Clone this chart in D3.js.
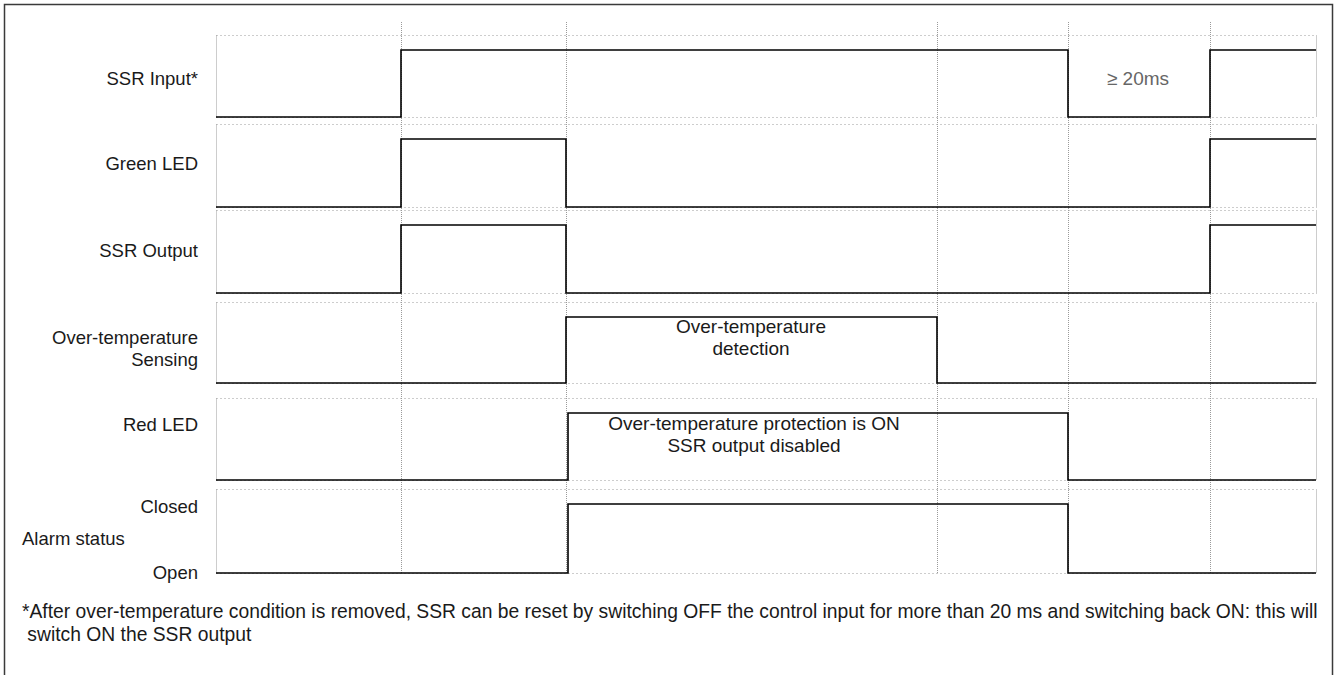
<!DOCTYPE html>
<html>
<head>
<meta charset="utf-8">
<script src="https://cdn.jsdelivr.net/npm/d3@7/dist/d3.min.js"></script>
<style>
  html, body { margin: 0; padding: 0; background: #fff; }
  svg { display: block; }
  text { font-family: "Liberation Sans", Arial, Helvetica, sans-serif; }
</style>
</head>
<body>
<svg id="chart" width="1335" height="675"></svg>
<script>
// ---------------- DATA ----------------
// Time axis in arbitrary units (0 .. 110)
const timeEnd = 110;
const gridTimes = [18.5, 35, 72.1, 85.2, 99.4];

const signalLabels = [
  ["SSR Input*"],
  ["Green LED"],
  ["SSR Output"],
  ["Over-temperature", "Sensing"],
  ["Red LED"],
  ["Alarm status"]
];

// Each signal: list of [time, level] change points (level 0 = low, 1 = high)
const ssrInput      = [[0, 0], [18.5, 1], [85.2, 0], [99.4, 1]];
const greenLed      = [[0, 0], [18.5, 1], [35, 0], [99.4, 1]];
const ssrOutput     = [[0, 0], [18.5, 1], [35, 0], [99.4, 1]];
const overTempSense = [[0, 0], [35, 1], [72.1, 0]];
const redLed        = [[0, 0], [35.2, 1], [85.2, 0]];
const alarmStatus   = [[0, 0], [35.2, 1], [85.2, 0]];

const alarmLevels = ["Closed", "Open"];

const annotations = [
  { row: 0, t: 92.2, lines: ["\u2265 20ms"], gray: true },
  { row: 3, t: 53.5, lines: ["Over-temperature", "detection"] },
  { row: 4, t: 53.8, lines: ["Over-temperature protection is ON", "SSR output disabled"] }
];

const footnote = [
  "*After over-temperature condition is removed, SSR can be reset by switching OFF the control input for more than 20 ms and switching back ON: this will",
  " switch ON the SSR output"
];

// ---------------- LAYOUT ----------------
const signals = [ssrInput, greenLed, ssrOutput, overTempSense, redLed, alarmStatus];
const rowTops    = [35, 124, 210, 302, 398, 489];
const rowBottoms = [117, 207, 293, 383, 480, 573];
const highOffset = 15;
const labelFont = 18.5;
const annFont = 19;
const footFont = 19.3;
const textColor = "#1a1a1a";

const svg = d3.select("#chart");

const x = d3.scaleLinear().domain([0, timeEnd]).range([216, 1316]);

// frame (bottom edge runs off the picture, as in the reference)
svg.append("rect")
  .attr("x", 4.5).attr("y", 4.5)
  .attr("width", 1328).attr("height", 690)
  .attr("fill", "none").attr("stroke", "#3a3a3a").attr("stroke-width", 1.5);

const gridColor = "#9a9a9a";

// vertical grid lines
svg.append("g").selectAll("line").data(gridTimes).join("line")
  .attr("x1", d => Math.round(x(d)) + 0.5).attr("x2", d => Math.round(x(d)) + 0.5)
  .attr("y1", 22).attr("y2", 573)
  .attr("stroke", gridColor).attr("stroke-width", 1)
  .attr("stroke-dasharray", "1,1");

// row boxes (dotted)
const rows = signals.map((s, i) => ({
  i, data: s,
  y: d3.scaleLinear().domain([0, 1]).range([rowBottoms[i], rowTops[i] + highOffset])
}));

const boxG = svg.append("g");
rows.forEach(r => {
  const top = rowTops[r.i] + 0.5, bot = rowBottoms[r.i] + 0.5;
  const x0 = x(0) + 0.5, x1 = x(timeEnd) + 0.5;
  [top, bot].forEach(yy => {
    boxG.append("line").attr("x1", x0).attr("x2", x1).attr("y1", yy).attr("y2", yy)
      .attr("stroke", gridColor).attr("stroke-width", 1).attr("stroke-dasharray", "1,3");
  });
  [x0, x1].forEach(xx => {
    boxG.append("line").attr("x1", xx).attr("x2", xx).attr("y1", top).attr("y2", bot)
      .attr("stroke", gridColor).attr("stroke-width", 1).attr("stroke-dasharray", "1,1");
  });
});

// signals
rows.forEach(r => {
  const pts = r.data.concat([[timeEnd, r.data[r.data.length - 1][1]]]);
  const line = d3.line()
    .x(d => x(d[0]))
    .y(d => r.y(d[1]))
    .curve(d3.curveStepAfter);
  svg.append("path")
    .attr("d", line(pts))
    .attr("fill", "none")
    .attr("stroke", "#000")
    .attr("stroke-width", 1.6)
    .attr("stroke-linejoin", "miter");
});

// row labels
const labelX = 198;
function addText(xx, yy, str, anchor, size, fill) {
  return svg.append("text").attr("x", xx).attr("y", yy)
    .attr("text-anchor", anchor).attr("dominant-baseline", "central")
    .attr("font-size", size).attr("fill", fill || textColor).text(str);
}
const labelCenters = [78, 163, 250, [337, 359], 424, null];
signalLabels.forEach((lab, i) => {
  if (i === 5) {
    addText(22, 538, lab[0], "start", labelFont);
    const ya = rows[5].y;
    addText(labelX, ya(1) + 2, alarmLevels[0], "end", labelFont);
    addText(labelX, ya(0) - 1, alarmLevels[1], "end", labelFont);
  } else if (Array.isArray(labelCenters[i])) {
    lab.forEach((ln, k) => addText(labelX, labelCenters[i][k], ln, "end", labelFont));
  } else {
    addText(labelX, labelCenters[i], lab[0], "end", labelFont);
  }
});

// annotations
const annY = { 0: [78], 3: [326, 348], 4: [423, 445] };
annotations.forEach(a => {
  a.lines.forEach((ln, k) => {
    addText(x(a.t), annY[a.row][k], ln, "middle", annFont, a.gray ? "#666" : textColor);
  });
});

// footnote
footnote.forEach((ln, k) => {
  addText(22, 611 + k * 23, ln, "start", footFont)
    .attr("xml:space", "preserve")
    .style("white-space", "pre");
});
</script>
</body>
</html>
